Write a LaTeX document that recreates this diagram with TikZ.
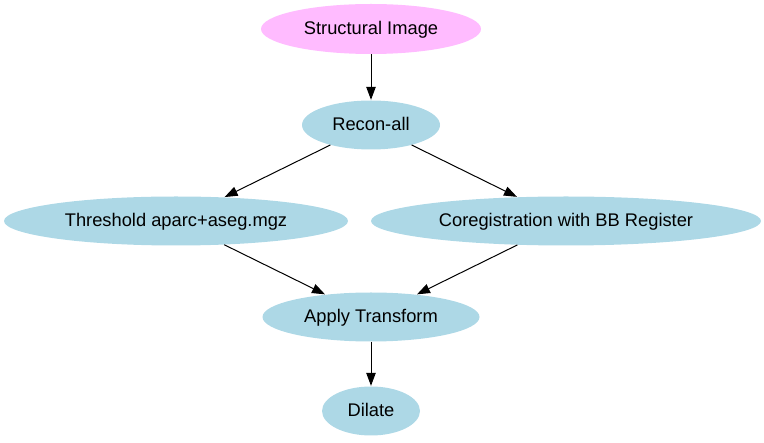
\documentclass[tikz,border=0pt]{standalone}
\usepackage{fontspec}
\setmainfont{Liberation Sans}
\usetikzlibrary{shapes.geometric,arrows.meta}
\definecolor{nodeblue}{HTML}{ADD8E6}
\definecolor{nodepink}{HTML}{FFBBFF}
\tikzset{
  gnode/.style={ellipse, fill=nodeblue, draw=none, inner sep=0pt, minimum height=49pt,
    text height=12pt, text depth=0pt,
    font=\fontsize{18.3pt}{22pt}\selectfont},
  edge/.style={draw=black, line width=1pt, -{Triangle[length=13pt,width=9.5pt]}, shorten >=0.5pt}
}
\begin{document}
\begin{tikzpicture}[x=1pt,y=1pt]
\useasboundingbox (0,0) rectangle (764,-443);
\node[gnode, fill=nodepink, minimum width=220pt, minimum height=50pt] (si) at (371,-29) {Structural Image};
\node[gnode, minimum width=138pt] (ra) at (371,-125) {Recon-all};
\node[gnode, minimum width=344pt] (th) at (176,-221) {Threshold aparc+aseg.mgz};
\node[gnode, minimum width=390pt] (co) at (566,-221) {Coregistration with BB Register};
\node[gnode, minimum width=217pt] (ap) at (371,-317) {Apply Transform};
\node[gnode, minimum width=98pt] (di) at (371,-411) {Dilate};
\draw[edge] (si) -- (ra);
\draw[edge] (ra) -- (th);
\draw[edge] (ra) -- (co);
\draw[edge] (th) -- (ap);
\draw[edge] (co) -- (ap);
\draw[edge] (ap) -- (di);
\end{tikzpicture}
\end{document}
